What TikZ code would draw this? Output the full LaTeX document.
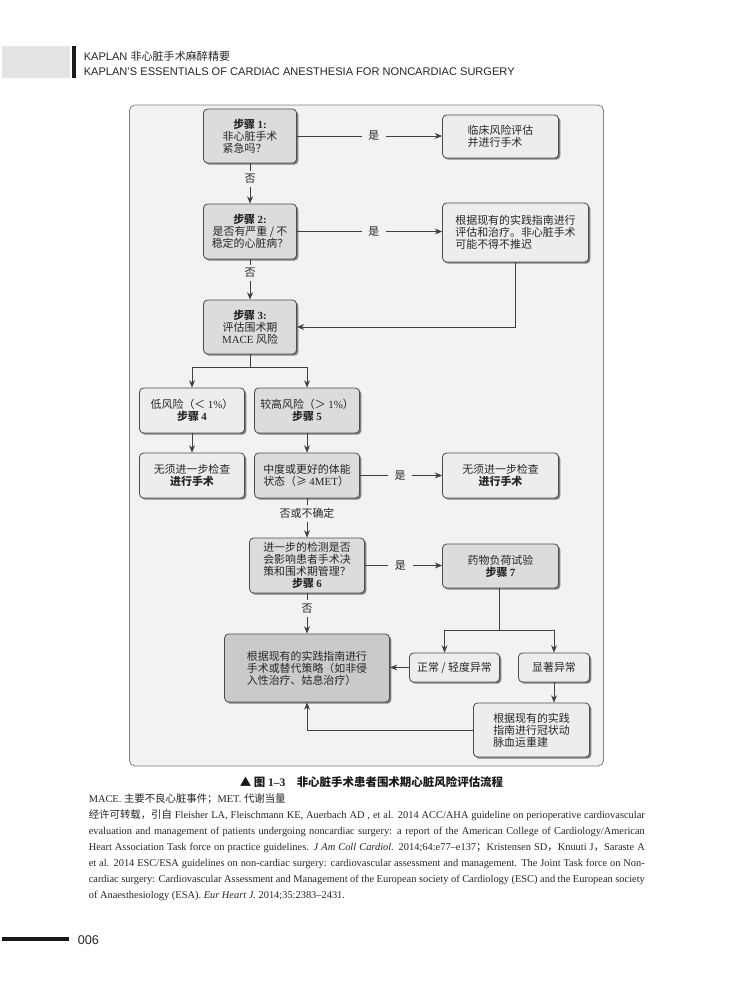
\documentclass[tikz,border=0pt]{standalone}
\usepackage{fontspec}
\setmainfont{Liberation Serif}
\newfontfamily\cjk{Noto Sans CJK SC}
\newfontfamily\hdrfont{Liberation Sans}
\usetikzlibrary{shadows,arrows.meta,calc}
\definecolor{panel}{HTML}{F1F2F3}
\definecolor{lightbox}{HTML}{EDEDEE}
\definecolor{graybox}{HTML}{DBDCDE}
\definecolor{darkbox}{HTML}{C9CACC}
\definecolor{hdrgray}{HTML}{E3E4E6}
\newcommand\latn[1]{{\rmfamily #1}}
\begin{document}
\begin{tikzpicture}[x=0.75pt,y=-0.75pt,
  bx/.style n args={2}{minimum width=#1*0.75pt, minimum height=#2*0.75pt},
  box/.style={draw=black!70, line width=0.6pt, rounded corners=3pt,
    drop shadow={shadow xshift=1.3pt, shadow yshift=-1.3pt, fill=black!55, opacity=0.9},
    inner sep=2pt, text=black!85, font=\cjk\fontsize{8.2}{9}\selectfont, align=center},
  lb/.style={box, fill=lightbox},
  gb/.style={box, fill=graybox},
  db/.style={box, fill=darkbox},
  conn/.style={draw=black!75, line width=0.6pt, -{Stealth[length=5.5pt,width=4.4pt]}},
  ln/.style={draw=black!75, line width=0.6pt},
  lab/.style={fill=panel, inner xsep=5pt, inner ysep=2.5pt, text=black!85, font=\cjk\fontsize{8.2}{9}\selectfont},
  fn/.style={anchor=base west, inner sep=0pt, text=black!85, font=\fontsize{7.8}{9}\selectfont}]

\fill[white] (0,0) rectangle (730,990);

% header
\fill[hdrgray] (0,46) rectangle (68,78);
\fill[black!90] (70,46) rectangle (74.5,78);
\node[anchor=base west, inner sep=0pt, font=\hdrfont\fontsize{8.3}{10}\selectfont, text=black!85] (h1) at (82,60) {KAPLAN {\cjk 非心脏手术麻醉精要}};
\node[anchor=base west, inner sep=0pt, font=\hdrfont\fontsize{8.3}{10}\selectfont, text=black!85] (h2) at (82,75) {KAPLAN’S ESSENTIALS OF CARDIAC ANESTHESIA FOR NONCARDIAC SURGERY};

% panel
\filldraw[fill=panel, draw=black!50, line width=0.6pt, rounded corners=4pt] (128,105) rectangle (602,766);

% boxes
\node[gb, bx={93}{54}] (s1) at (248.5,136) {\textbf{步骤 \latn{1:}}\\非心脏手术\\\makebox[5em][l]{紧急吗？}};
\node[lb, bx={116}{43}, align=left] (r1) at (499,136.5) {临床风险评估\\并进行手术};
\node[gb, bx={93}{55}] (s2) at (248.5,231.5) {\textbf{步骤 \latn{2:}}\\是否有严重 / 不\\稳定的心脏病？};
\node[lb, bx={146}{59}, align=left] (r2) at (514,232.5) {根据现有的实践指南进行\\评估和治疗。非心脏手术\\可能不得不推迟};
\node[gb, bx={93}{54}] (s3) at (248.5,327) {\textbf{步骤 \latn{3:}}\\评估围术期\\\latn{MACE} 风险};
\node[lb, bx={105}{45}] (low) at (190.5,410.5) {低风险（＜ \latn{1\%}）\\\textbf{步骤 \latn{4}}};
\node[gb, bx={105}{45}] (high) at (305.5,410.5) {较高风险（＞ \latn{1\%}）\\\textbf{步骤 \latn{5}}};
\node[lb, bx={105}{45}] (nf1) at (190.5,475.5) {无须进一步检查\\\textbf{进行手术}};
\node[gb, bx={105}{45}, align=left] (fc) at (305.5,475.5) {中度或更好的体能\\状态（≥ \latn{4MET}）};
\node[lb, bx={116}{45}] (nf2) at (499,475.5) {无须进一步检查\\\textbf{进行手术}};
\node[gb, bx={115}{55}] (s6) at (305.5,565.5) {进一步的检测是否\\会影响患者手术决\\策和围术期管理？\\\textbf{步骤 \latn{6}}};
\node[gb, bx={116}{44}] (s7) at (499,566) {药物负荷试验\\\textbf{步骤 \latn{7}}};
\node[db, bx={165}{68}, align=left] (big) at (305.5,668) {根据现有的实践指南进行\\手术或替代策略（如非侵\\入性治疗、姑息治疗）};
\node[lb, bx={90}{29}] (norm) at (453,667.5) {正常 / 轻度异常};
\node[lb, bx={71}{29}] (sig) at (552.5,667.5) {显著异常};
\node[lb, bx={116}{54}, align=left] (cabg) at (530,730) {根据现有的实践\\指南进行冠状动\\脉血运重建};

% connectors
\draw[conn] (s1.east) -- node[lab, pos=0.53] {是} (r1.west |- s1.east);
\draw[conn] (s1.south) -- node[lab, pos=0.39] {否} (s2.north);
\draw[conn] (s2.east) -- node[lab, pos=0.53] {是} (r2.west |- s2.east);
\draw[conn] (s2.south) -- node[lab, pos=0.34] {否} (s3.north);
\draw[conn] (r2.south) |- (s3.east);
\coordinate (sp1) at (248.5,367);
\draw[ln] (s3.south) -- (sp1);
\draw[conn] (sp1) -| (low.north);
\draw[conn] (sp1) -| (high.north);
\draw[conn] (low.south) -- (nf1.north);
\draw[conn] (high.south) -- (fc.north);
\draw[conn] (fc.east) -- node[lab, pos=0.49] {是} (nf2.west);
\draw[conn] (fc.south) -- node[lab, pos=0.375] {否或不确定} (s6.north);
\draw[conn] (s6.east) -- node[lab, pos=0.46] {是} (s7.west |- s6.east);
\draw[conn] (s6.south) -- node[lab, pos=0.375] {否} (big.north);
\coordinate (sp2) at (498,630);
\draw[ln] (s7.south -| sp2) -- (sp2);
\draw[conn] (sp2) -| ([xshift=-7.5pt]norm.north);
\draw[conn] (sp2) -| (sig.north);
\draw[conn] (norm.west) -- (big.east |- norm.west);
\draw[conn] (sig.south) -- (sig.south |- cabg.north);
\draw[conn] (cabg.west) -| (big.south);

% caption
\node[inner sep=0pt, font=\cjk\bfseries\fontsize{8.6}{10}\selectfont, text=black!90] (cap) at (370,782) {▲ 图 \latn{\textbf{1–3}}\quad 非心脏手术患者围术期心脏风险评估流程};

% footnotes
\node[fn] (f1) at (87,802.5) {MACE. {\cjk 主要不良心脏事件；}MET. {\cjk 代谢当量}};
\node[fn] (f2) at (87,818.5) {\makebox[417pt][s]{{\cjk 经许可转载，引自} Fleisher LA, Fleischmann KE, Auerbach AD , et al. 2014 ACC/AHA guideline on perioperative cardiovascular}};
\node[fn] (f3) at (87,834.5) {\makebox[417pt][s]{evaluation and management of patients undergoing noncardiac surgery: a report of the American College of Cardiology/American}};
\node[fn] (f4) at (87,850.5) {\makebox[417pt][s]{Heart Association Task force on practice guidelines. \textit{J Am Coll Cardiol.} 2014;64:e77–e137{\cjk ；}Kristensen SD{\cjk ，}Knuuti J{\cjk ，}Saraste A}};
\node[fn] (f5) at (87,866.5) {\makebox[417pt][s]{et al. 2014 ESC/ESA guidelines on non-cardiac surgery: cardiovascular assessment and management. The Joint Task force on Non-}};
\node[fn] (f6) at (87,882.5) {\makebox[417pt][s]{cardiac surgery: Cardiovascular Assessment and Management of the European society of Cardiology (ESC) and the European society}};
\node[fn] (f7) at (87,898.5) {of Anaesthesiology (ESA). \textit{Eur Heart J.} 2014;35:2383–2431.};

% page number
\draw[black!90, line width=2.3pt] (0,939) -- (67,939);
\node[anchor=base west, inner sep=0pt, font=\hdrfont\fontsize{9.5}{11}\selectfont, text=black!85] (pg) at (76,944) {006};
\end{tikzpicture}
\end{document}
